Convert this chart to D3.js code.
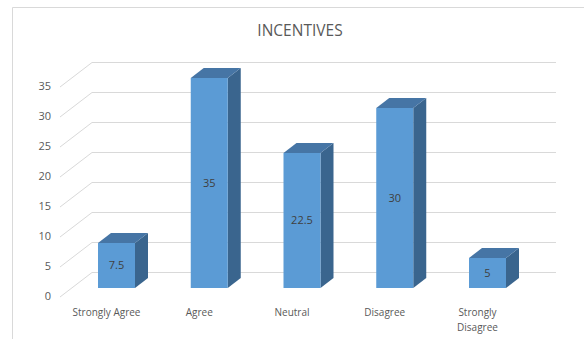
<!DOCTYPE html>
<html><head><meta charset="utf-8">
<script src="https://cdn.jsdelivr.net/npm/d3@7"></script>
<style>body{margin:0;background:#fff}svg{display:block}text{font-family:"Open Sans","Noto Sans",sans-serif}</style>
</head><body>
<svg id="c" width="584" height="339"></svg>
<script>
const title = "INCENTIVES";
const categories = ["Strongly Agree", "Agree", "Neutral", "Disagree", "Strongly Disagree"];
const values = [7.5, 35, 22.5, 30, 5];
const valueLabels = ["7.5", "35", "22.5", "30", "5"];
const ticks = [0, 5, 10, 15, 20, 25, 30, 35];

const svg = d3.select("#c");
const W = 584, H = 339;

// chart border (top & left visible)
svg.append("path").attr("d", `M12.5,${H} V7.5 H${W}`).attr("fill", "none").attr("stroke", "#d9d9d9");

// scales
const yBack = d3.scaleLinear().domain([0, 35]).range([272, 62]);
const yFront = d3.scaleLinear().domain([0, 35]).range([297, 87]);
const yBar = d3.scaleLinear().domain([0, 35]).range([288, 78]);
const x = d3.scalePoint().domain(categories).range([116.5, 487.5]);
const barW = 37, dX = 13, dY = -10;
const wallL = 92, wallR = 556, frontL = 60;

const grid = svg.append("g").attr("stroke", "#d9d9d9").attr("stroke-width", 1).attr("fill", "none");
ticks.forEach(t => {
  grid.append("line").attr("x1", wallL).attr("x2", wallR).attr("y1", yBack(t) + 0.5).attr("y2", yBack(t) + 0.5);
  grid.append("line").attr("x1", frontL).attr("y1", yFront(t)).attr("x2", wallL).attr("y2", yBack(t) + 0.5);
});

// tick labels
svg.append("g").selectAll("text").data(ticks).join("text")
  .attr("x", 51).attr("y", d => yFront(d) - 1).attr("dy", "0.35em")
  .attr("text-anchor", "end").attr("font-size", 11).attr("fill", "#595959").text(d => d);

// bars
const bars = svg.append("g").selectAll("g").data(categories).join("g");
bars.each(function(c, i) {
  const g = d3.select(this);
  const x0 = x(c) - barW / 2, x1 = x0 + barW;
  const yt = yBar(values[i]), yb = yBar(0);
  // side
  g.append("path").attr("d", `M${x1},${yt} L${x1 + dX},${yt + dY} L${x1 + dX},${yb + dY} L${x1},${yb} Z`).attr("fill", "#3A658E");
  // top
  g.append("path").attr("d", `M${x0},${yt} L${x0 + dX},${yt + dY} L${x1 + dX},${yt + dY} L${x1},${yt} Z`).attr("fill", "#4675A5");
  // front
  g.append("rect").attr("x", x0).attr("y", yt).attr("width", barW).attr("height", yb - yt).attr("fill", "#5B9BD5");
  g.append("text").attr("x", x0 + barW / 2).attr("y", (yt + yb) / 2).attr("dy", "0.35em")
    .attr("text-anchor", "middle").attr("font-size", 11).attr("fill", "#404040").text(valueLabels[i]);
});

// category labels
const catG = svg.append("g");
categories.forEach(c => {
  const t = catG.append("text").attr("x", x(c) - 10).attr("y", 316)
    .attr("text-anchor", "middle").attr("font-size", 10).attr("fill", "#595959");
  if (c === "Strongly Disagree") {
    t.append("tspan").attr("x", x(c) - 10).text("Strongly");
    t.append("tspan").attr("x", x(c) - 10).attr("dy", 15).text("Disagree");
  } else t.text(c);
});

// title
svg.append("text").attr("x", 300).attr("y", 36).attr("text-anchor", "middle")
  .attr("font-size", 15.5).attr("fill", "#595959").text(title);
</script>
</body></html>
